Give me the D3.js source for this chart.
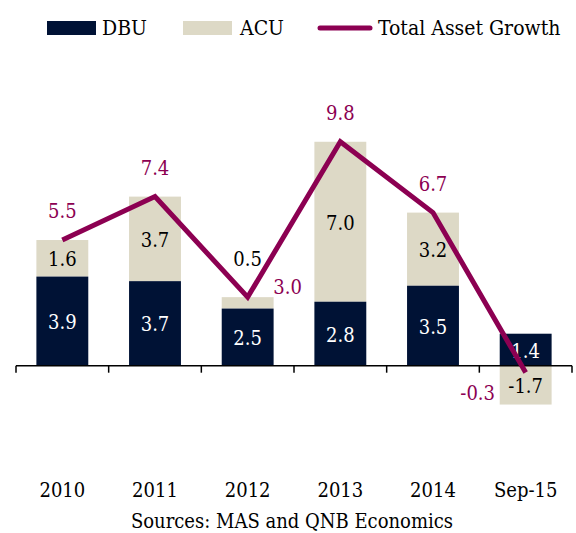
<!DOCTYPE html>
<html>
<head>
<meta charset="utf-8">
<script src="https://cdn.jsdelivr.net/npm/d3@7"></script>
<style>
  body { margin: 0; background: #fff; }
  svg text { font-family: "DejaVu Serif Condensed", "DejaVu Serif", serif; font-stretch: condensed; }
</style>
</head>
<body>
<div id="chart"></div>
<script>
const categories = ["2010", "2011", "2012", "2013", "2014", "Sep-15"];
const dbu = [3.9, 3.7, 2.5, 2.8, 3.5, 1.4];
const acu = [1.6, 3.7, 0.5, 7.0, 3.2, -1.7];
const totalGrowth = [5.5, 7.4, 3.0, 9.8, 6.7, -0.3];

const width = 576, height = 533;
const navy = "#001235", beige = "#ddd9c6", maroon = "#8c0052";

const svg = d3.select("#chart")
  .append("svg")
  .attr("width", width)
  .attr("height", height);

const x = d3.scaleBand().domain(categories).range([16, 572]).paddingInner(0.44).paddingOuter(0.22);
const y = d3.scaleLinear().domain([-2, 10]).range([411.4, 137.2]);

// stacked segments: DBU from 0, ACU stacked on DBU (negative goes below 0)
const rows = categories.map((c, i) => {
  const d = dbu[i], a = acu[i];
  const dbuSeg = [0, d];
  const acuSeg = a >= 0 ? [d, d + a] : [0, a];
  return { c, d, a, dbuSeg, acuSeg, t: totalGrowth[i] };
});

svg.selectAll(".acu")
  .data(rows)
  .enter().append("rect")
  .attr("x", r => x(r.c))
  .attr("width", x.bandwidth())
  .attr("y", r => y(Math.max(...r.acuSeg)))
  .attr("height", r => Math.abs(y(r.acuSeg[0]) - y(r.acuSeg[1])))
  .attr("fill", beige);

svg.selectAll(".dbu")
  .data(rows)
  .enter().append("rect")
  .attr("x", r => x(r.c))
  .attr("width", x.bandwidth())
  .attr("y", r => y(Math.max(...r.dbuSeg)))
  .attr("height", r => Math.abs(y(r.dbuSeg[0]) - y(r.dbuSeg[1])))
  .attr("fill", navy);

// x axis line + ticks between categories
const axis = d3.axisBottom(x).tickSize(0).tickFormat("");
const axisG = svg.append("g").attr("transform", `translate(0,${y(0)})`).call(axis);
axisG.select(".domain").attr("stroke", "#000").attr("stroke-width", 1.5).attr("d", "M16,0H572");
const step = x.step();
const bounds = categories.map(c => x(c) - x.paddingInner() * step / 2).concat([572]);
axisG.selectAll(".sep")
  .data(bounds)
  .enter().append("line")
  .attr("x1", d => d).attr("x2", d => d)
  .attr("y1", 0).attr("y2", 7)
  .attr("stroke", "#000").attr("stroke-width", 1.5);

// category labels
svg.selectAll(".cat")
  .data(categories)
  .enter().append("text")
  .attr("x", c => x(c) + x.bandwidth() / 2)
  .attr("y", 497)
  .attr("text-anchor", "middle")
  .attr("font-size", "20px")
  .attr("fill", "#000")
  .text(c => c);

// segment labels
const fs = "20px";
svg.selectAll(".dbuLab")
  .data(rows)
  .enter().append("text")
  .attr("x", r => x(r.c) + x.bandwidth() / 2)
  .attr("y", r => (y(r.dbuSeg[0]) + y(r.dbuSeg[1])) / 2)
  .attr("dy", "0.4em")
  .attr("text-anchor", "middle")
  .attr("font-size", fs)
  .attr("fill", "#fff")
  .text(r => r.d.toFixed(1));

svg.selectAll(".acuLab")
  .data(rows)
  .enter().append("text")
  .attr("x", r => x(r.c) + x.bandwidth() / 2)
  .attr("y", r => r.a >= 0 && r.a < 1 ? y(r.acuSeg[1]) - 39 : (y(r.acuSeg[0]) + y(r.acuSeg[1])) / 2)
  .attr("dy", "0.4em")
  .attr("text-anchor", "middle")
  .attr("font-size", fs)
  .attr("fill", "#000")
  .text(r => r.a.toFixed(1));

// total asset growth line
const cx = c => x(c) + x.bandwidth() / 2;
const line = d3.line().x(r => cx(r.c)).y(r => y(r.t));
svg.append("path")
  .datum(rows)
  .attr("d", line)
  .attr("fill", "none")
  .attr("stroke", maroon)
  .attr("stroke-width", 5)
  .attr("stroke-linejoin", "miter");

const totalPos = ["above", "above", "right", "above", "above", "left"];
svg.selectAll(".totLab")
  .data(rows)
  .enter().append("text")
  .attr("x", (r, i) => cx(r.c) + (totalPos[i] === "right" ? 40 : totalPos[i] === "left" ? -48 : 0))
  .attr("y", (r, i) => y(r.t) + (totalPos[i] === "right" ? -11 : totalPos[i] === "left" ? 19 : -30))
  .attr("dy", "0.4em")
  .attr("text-anchor", "middle")
  .attr("font-size", fs)
  .attr("fill", maroon)
  .text(r => r.t.toFixed(1));

// legend
const legend = [
  { label: "DBU", type: "rect", color: navy, x: 47, tx: 102 },
  { label: "ACU", type: "rect", color: beige, x: 183, tx: 240 },
  { label: "Total Asset Growth", type: "line", color: maroon, x: 318, tx: 378 }
];
const lg = svg.append("g");
legend.forEach(l => {
  if (l.type === "rect") {
    lg.append("rect").attr("x", l.x).attr("y", 21).attr("width", 49).attr("height", 14).attr("fill", l.color);
  } else {
    lg.append("line").attr("x1", l.x + 2).attr("x2", l.x + 52).attr("y1", 28).attr("y2", 28)
      .attr("stroke", l.color).attr("stroke-width", 5).attr("stroke-linecap", "round");
  }
  lg.append("text").attr("x", l.tx).attr("y", 35).attr("font-size", "21px").attr("fill", "#000").text(l.label);
});

svg.append("text")
  .attr("x", 292).attr("y", 528)
  .attr("text-anchor", "middle")
  .attr("font-size", "20px")
  .attr("fill", "#000")
  .text("Sources: MAS and QNB Economics");
</script>
</body>
</html>
